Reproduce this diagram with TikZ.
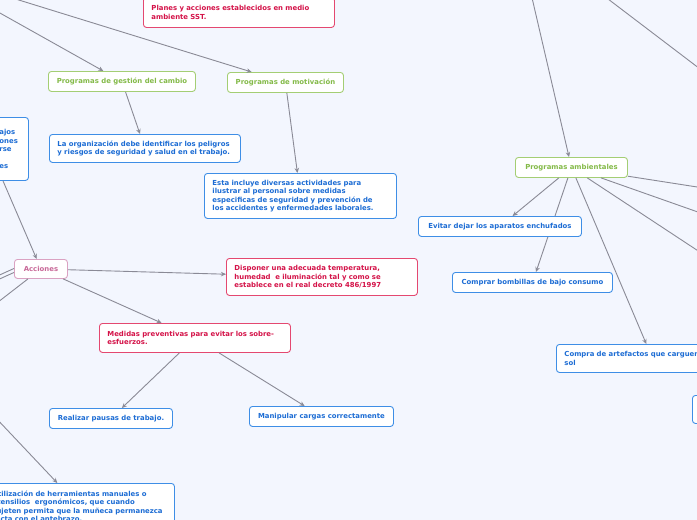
\documentclass[tikz,border=0pt]{standalone}
\usepackage{fontspec}
\setmainfont{DejaVu Sans}
\usepackage{xcolor}
\usetikzlibrary{arrows.meta}
\definecolor{bgcol}{RGB}{243,246,254}
\definecolor{hintline}{RGB}{62,142,230}
\definecolor{hinttext}{RGB}{28,108,212}
\definecolor{goalline}{RGB}{228,72,112}
\definecolor{goaltext}{RGB}{212,18,72}
\definecolor{progline}{RGB}{164,206,116}
\definecolor{progtext}{RGB}{132,186,72}
\definecolor{actline}{RGB}{218,162,194}
\definecolor{acttext}{RGB}{200,104,152}
\definecolor{linkgray}{RGB}{138,138,150}

\begin{document}
\begin{tikzpicture}[
            x=1pt,y=-1pt,
            font=\fontsize{6.9}{8.5}\selectfont\bfseries,
            card/.style={draw,rounded corners=3pt,fill=white,line width=0.9pt,anchor=north west,inner xsep=8pt,inner ysep=2pt},
            hint/.style={card,draw=hintline,text=hinttext},
            goal/.style={card,draw=goalline,text=goaltext},
            prog/.style={card,draw=progline,text=progtext},
            act/.style={card,draw=actline,text=acttext},
            arrow/.style={-{Stealth[length=5pt,width=4.5pt]},line width=0.9pt,draw=linkgray}
        ]
            \useasboundingbox (0,0) rectangle (697,520);
            \fill[bgcol] (0,0) rectangle (697,520);
            \clip (0,0) rectangle (697,520);

            % parents outside the visible part
            \coordinate (topleft) at (-75,-29);
            \coordinate (topright) at (516,-71);
            \coordinate (farright) at (800,145);
            \coordinate (ambA) at (800,203);
            \coordinate (ambB) at (800,248);
            \coordinate (ambC) at (800,318);
            \coordinate (accA) at (-60,302);
            \coordinate (accB) at (-60,306);
            \coordinate (accC) at (-60,347);
            \coordinate (utilsrc) at (-40,380);

            \node[goal,minimum width=191,minimum height=30,text width=175,align=left] (planes) at (143,-3) {Planes y acciones establecidos en medio\\ambiente SST.};
            \node[prog,minimum width=147,minimum height=20] (gestion) at (48,71) {Programas de gestión del cambio};
            \node[prog,minimum width=116,minimum height=20] (motiv) at (227,72) {Programas de motivación};
            \node[hint,minimum width=191,minimum height=28,text width=175,align=left] (organiz) at (49,134) {La organización debe identificar los peligros\\y riesgos de seguridad y salud en el trabajo.};
            \node[hint,minimum width=192,minimum height=45,text width=176,align=left] (incluye) at (204,173) {Esta incluye diversas actividades para\\ilustrar al personal sobre medidas\\especificas de seguridad y prevención de\\los accidentes y enfermedades laborales.};
            \node[hint,minimum width=35,minimum height=63,text width=21,align=left] (leftnote) at (-9,117) {ajos\\ones\\rse\\\mbox{}\\es};
            \node[act,minimum width=53,minimum height=19] (acciones) at (14,259) {Acciones};
            \node[goal,minimum width=191,minimum height=37,text width=175,align=left] (disponer) at (226,258) {Disponer una adecuada temperatura,\\humedad\ \ e iluminación tal y como se\\establece en el real decreto 486/1997};
            \node[goal,minimum width=191,minimum height=29,text width=175,align=left] (medidas) at (99,323) {Medidas preventivas para evitar los sobre-\\esfuerzos.};
            \node[hint,minimum width=123,minimum height=20] (pausas) at (49,408) {Realizar pausas de trabajo.};
            \node[hint,minimum width=144,minimum height=20] (cargas) at (249,406) {Manipular cargas correctamente};
            \node[hint,minimum width=190,minimum height=46,text width=174,align=left] (utiliz) at (-16,483) {Utilización de herramientas manuales o\\utensilios\ \ ergonómicos, que cuando\\sujeten permita que la muñeca permanezca\\recta con el antebrazo.};
            \node[prog,minimum width=112,minimum height=20] (ambient) at (515,157) {Programas ambientales};
            \node[hint,minimum width=160,minimum height=20] (bombillas) at (452,272) {Comprar bombillas de bajo consumo};
            \node[hint,minimum width=192,minimum height=28,text width=176,align=left] (artef) at (556,344) {Compra de artefactos que carguen\\sol};
            \node[hint,minimum width=100,minimum height=28] (farbox) at (692,395) {};

            \draw[arrow] (topleft) -- (gestion);
            \draw[arrow] (topleft) -- (motiv);
            \draw[arrow] (gestion) -- (organiz);
            \draw[arrow] (motiv) -- (incluye);
            \draw[arrow] ([xshift=12pt]leftnote.south west) -- (acciones);
            \draw[arrow] (acciones) -- (disponer);
            \draw[arrow] (acciones) -- (medidas);
            \draw[arrow] ([yshift=0.5pt]acciones.west) -- (accA);
            \draw[arrow] ([yshift=-3.5pt]acciones.west) -- (accB);
            \draw[arrow] ([xshift=-13pt]acciones.south) -- (accC);
            \draw[arrow] (utilsrc) -- (utiliz);
            \draw[arrow] (medidas) -- (pausas);
            \draw[arrow] (medidas) -- (cargas);
            \draw[arrow] (topright) -- (ambient);
            \draw[arrow] (topright) -- (farright);
            \draw[arrow] (ambient) -- (bombillas);
            \draw[arrow] (ambient) -- (artef);
            \draw[arrow] (ambient) -- (ambA);
            \draw[arrow] (ambient) -- (ambB);
            \draw[arrow] (ambient) -- (ambC);

            % this card hides the link to the bulbs
            \node[hint,minimum width=163,minimum height=20] (evitar) at (418,216) {Evitar dejar los aparatos enchufados};
            \draw[arrow] (ambient) -- (evitar);
        \end{tikzpicture}
\end{document}
